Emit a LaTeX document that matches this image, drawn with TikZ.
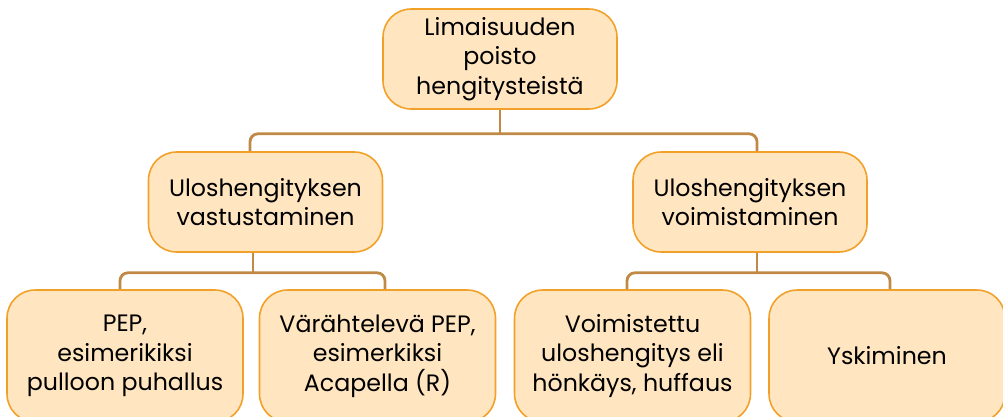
\documentclass[tikz,border=0pt]{standalone}
\usepackage{fontspec}
\setmainfont{Poppins}
\usetikzlibrary{calc}

\definecolor{boxfill}{RGB}{255,230,192}
\definecolor{boxline}{RGB}{242,160,40}
\definecolor{connline}{RGB}{192,138,70}

\tikzset{
  box/.style={draw=boxline, fill=boxfill, line width=0.9pt, rounded corners=0.56cm,
    align=center, font=\fontsize{13.5}{16.8}\selectfont, inner sep=0pt},
  topbox/.style={box, minimum width=4.68cm, minimum height=2.0cm},
  bigbox/.style={box, minimum width=4.72cm, minimum height=2.64cm},
  conn/.style={draw=connline, line width=1.6pt, rounded corners=0.16cm}
}

\begin{document}
\begin{tikzpicture}[x=0.02cm, y=-0.02cm]

\useasboundingbox (0,0) rectangle (1003,416);

% top level
\node[topbox] (poisto) at (500,59) {Limaisuuden\\poisto\\hengitysteistä};

% middle level
\node[topbox] (vast) at (265.5,202) {Uloshengityksen\\vastustaminen};
\node[topbox] (voim) at (750,202) {Uloshengityksen\\voimistaminen};

% bottom level
\node[bigbox] (pep) at (125,356) {PEP,\\esimerikiksi\\pulloon puhallus};
\node[bigbox] (varpep) at (377.5,356) {Värähtelevä PEP,\\esimerkiksi\\Acapella (R)};
\node[bigbox] (honk) at (632.5,356) {Voimistettu\\uloshengitys eli\\hönkäys, huffaus};
\node[bigbox] (ysk) at (887,356) {Yskiminen};

% connectors
\draw[conn] (poisto.south) -- ++(0,24) coordinate (j0);
\draw[conn] (j0) -| ([xshift=-0.31cm]vast.north);
\draw[conn] (j0) -| ([xshift=0.14cm]voim.north);

\draw[conn] ([xshift=-0.25cm]vast.south) -- ++(0,20) coordinate (j1);
\draw[conn] (j1) -| ([xshift=-0.1cm]pep.north);
\draw[conn] (j1) -| ([xshift=0.15cm]varpep.north);

\draw[conn] ([xshift=0.14cm]voim.south) -- ++(0,20) coordinate (j2);
\draw[conn] (j2) -| ([xshift=-0.11cm]honk.north);
\draw[conn] (j2) -| ([xshift=0.06cm]ysk.north);

\end{tikzpicture}
\end{document}
